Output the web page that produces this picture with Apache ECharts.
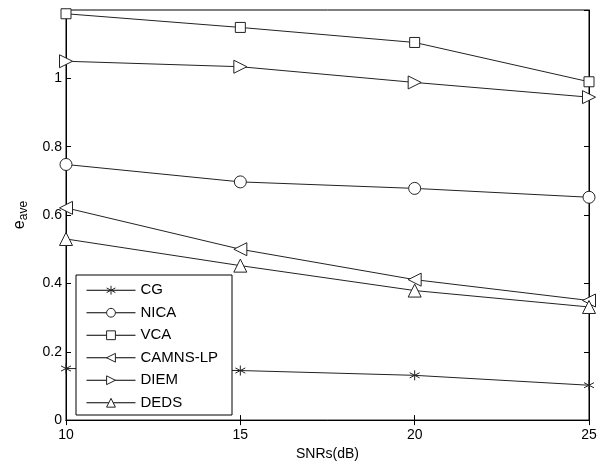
<!DOCTYPE html>
<html>
<head>
<meta charset="utf-8">
<script src="https://cdn.jsdelivr.net/npm/echarts@6/dist/echarts.min.js"></script>
<style>
  html, body { margin: 0; padding: 0; background: #fff; }
  #chart { width: 607px; height: 466px; }
</style>
</head>
<body>
<div id="chart"></div>
<script>
const snrList = [10, 15, 20, 25];
const cgList = [0.151, 0.145, 0.131, 0.102];
const nicaList = [0.748, 0.697, 0.678, 0.652];
const vcaList = [1.189, 1.149, 1.105, 0.990];
const camnsList = [0.621, 0.500, 0.411, 0.350];
const diemList = [1.050, 1.034, 0.988, 0.945];
const dedsList = [0.530, 0.452, 0.379, 0.331];

const starPath = 'path://M0,-5L0,5M-4.5,-2.6L4.5,2.6M-4.5,2.6L4.5,-2.6';

function pairs(arr) {
  return arr.map((v, i) => [snrList[i], v]);
}

function makeSeries(name, data, symbol, size, rotate) {
  return {
    name: name,
    type: "line",
    data: pairs(data),
    symbol: symbol,
    symbolSize: size,
    symbolRotate: rotate || 0,
    showAllSymbol: true,
    lineStyle: { color: "#222", width: 1 },
    itemStyle: { color: "#fff", borderColor: "#222", borderWidth: 1 },
    emphasis: { disabled: true },
    animation: false,
  };
}

const chart = echarts.init(document.getElementById("chart"));
const fontFamily = "Liberation Sans, Arial, sans-serif";

let options = {
  textStyle: { fontFamily: fontFamily },
  grid: { left: 66, right: 18, top: 10, bottom: 45, show: true, borderColor: "#000", borderWidth: 1 },
  legend: {
    orient: "vertical",
    left: 76,
    top: 275,
    data: ["CG", "NICA", "VCA", "CAMNS-LP", "DIEM", "DEDS"],
    itemWidth: 49,
    itemHeight: 11,
    itemGap: 0,
    padding: [4, 14, 1, 10],
    backgroundColor: "#fff",
    borderColor: "#000",
    borderWidth: 1,
    borderRadius: 0,
    lineStyle: { width: 1, color: "#000" },
    itemStyle: { borderWidth: 1, borderColor: "#222", color: "#fff" },
    textStyle: { fontSize: 15, lineHeight: 22.5, color: "#000", fontFamily: fontFamily },
  },
  xAxis: [
    {
      type: "value",
      min: 10,
      max: 25,
      interval: 5,
      position: "bottom",
      name: "SNRs(dB)",
      nameLocation: "middle",
      nameGap: 22,
      nameTextStyle: { fontSize: 14, color: "#000" },
      axisLine: { lineStyle: { color: "#000" } },
      axisTick: { inside: true, length: 5, lineStyle: { color: "#000" } },
      axisLabel: { fontSize: 14, color: "#000", margin: 8 },
      splitLine: { show: false },
    },
    {
      type: "value",
      min: 10,
      max: 25,
      interval: 5,
      position: "top",
      axisLine: { lineStyle: { color: "#000" } },
      axisTick: { inside: true, length: 5, lineStyle: { color: "#000" } },
      axisLabel: { show: false },
      splitLine: { show: false },
    },
  ],
  yAxis: [
    {
      type: "value",
      min: 0,
      max: 1.2,
      interval: 0.2,
      position: "left",
      name: "{e|e}{s|ave}",
      nameLocation: "middle",
      nameRotate: 90,
      nameGap: 36,
      nameTextStyle: {
        color: "#000",
        rich: {
          e: { fontSize: 16, color: "#000", fontFamily: fontFamily },
          s: { fontSize: 12, color: "#000", fontFamily: fontFamily, padding: [8, 0, 0, 0] },
        },
      },
      axisLine: { lineStyle: { color: "#000" } },
      axisTick: { inside: true, length: 5, lineStyle: { color: "#000" } },
      axisLabel: {
        fontSize: 14,
        color: "#000",
        margin: 4,
        formatter: function (v) { return v > 1.1 ? "" : String(Math.round(v * 10) / 10); },
      },
      splitLine: { show: false },
    },
    {
      type: "value",
      min: 0,
      max: 1.2,
      interval: 0.2,
      position: "right",
      axisLine: { lineStyle: { color: "#000" } },
      axisTick: { inside: true, length: 5, lineStyle: { color: "#000" } },
      axisLabel: { show: false },
      splitLine: { show: false },
    },
  ],
  series: [
    makeSeries("CG", cgList, starPath, 10, 0),
    makeSeries("NICA", nicaList, "circle", 12, 0),
    makeSeries("VCA", vcaList, "rect", 10, 0),
    makeSeries("CAMNS-LP", camnsList, "triangle", 13, 90),
    makeSeries("DIEM", diemList, "triangle", 13, -90),
    makeSeries("DEDS", dedsList, "triangle", 13, 0),
  ],
};

chart.setOption(options);
</script>
</body>
</html>
